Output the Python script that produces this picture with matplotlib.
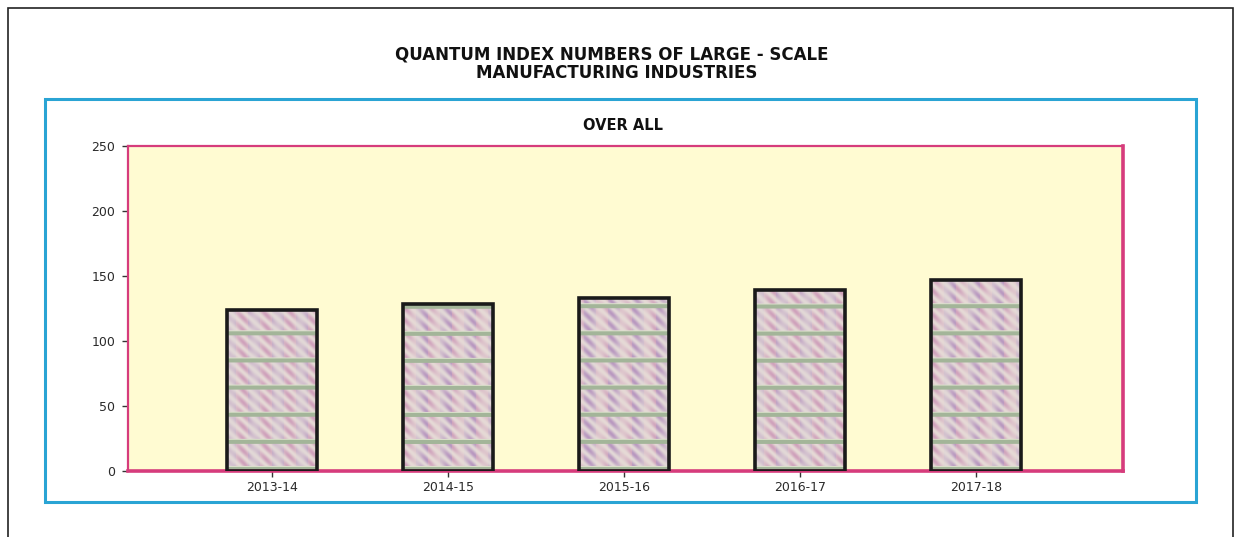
import matplotlib.pyplot as plt
import numpy as np
from matplotlib.patches import Rectangle

years = ['2013-14', '2014-15', '2015-16', '2016-17', '2017-18']
index_values = [124.0, 128.3, 133.2, 139.6, 147.0]
y_ticks = [0, 50, 100, 150, 200, 250]

W_PX, H_PX = 1235, 537
fig = plt.figure(figsize=(W_PX / 100, H_PX / 100), dpi=100)
fig.patch.set_facecolor('white')

# outer black frame (bottom edge falls off the picture)
fig.patches.append(Rectangle((8 / W_PX, -0.05), 1225 / W_PX, (537 - 8) / H_PX + 0.05,
                             transform=fig.transFigure, fill=False,
                             edgecolor='#222222', linewidth=1.2))
# cyan chart frame
fig.patches.append(Rectangle((45 / W_PX, (537 - 502) / H_PX), 1151 / W_PX, 403 / H_PX,
                             transform=fig.transFigure, fill=False,
                             edgecolor='#2aa4d4', linewidth=2.2))

fig.text(612 / W_PX, 1 - 55 / H_PX, 'QUANTUM INDEX NUMBERS OF LARGE - SCALE',
         ha='center', va='center', fontsize=12, fontweight='bold',
         family='DejaVu Sans', color='#111111')
fig.text(617 / W_PX, 1 - 73 / H_PX, 'MANUFACTURING INDUSTRIES',
         ha='center', va='center', fontsize=12, fontweight='bold',
         family='DejaVu Sans', color='#111111')
fig.text(623 / W_PX, 1 - 126 / H_PX, 'OVER ALL',
         ha='center', va='center', fontsize=10.5, fontweight='bold',
         family='DejaVu Sans', color='#111111')

ax_l, ax_t, ax_r, ax_b = 128, 146, 1123, 471
ax = fig.add_axes([ax_l / W_PX, (537 - ax_b) / H_PX,
                   (ax_r - ax_l) / W_PX, (ax_b - ax_t) / H_PX])
ax.set_facecolor('#fffbd2')

x = np.arange(len(years))
xlim = (-0.818, 4.835)
ylim = (0, 250)

# soft textured fill for the bars (lilac strokes on cream, green bands)
h, w = ax_b - ax_t, ax_r - ax_l
yy, xx = np.mgrid[0:h, 0:w]
cream = np.array([0.92, 0.90, 0.86])
lilac = np.array([0.70, 0.56, 0.74])
pink = np.array([0.80, 0.60, 0.72])
green = np.array([0.64, 0.71, 0.60])
s1 = 0.5 + 0.5 * np.sin(2 * np.pi * (xx * 0.9 + yy) / 12)
s2 = 0.5 + 0.5 * np.cos(2 * np.pi * xx / 23)
mix = (0.15 + 0.75 * s1 * (0.35 + 0.65 * s2))[..., None]
tex = cream * (1 - mix) + np.where((xx // 12 % 2 == 0)[..., None], lilac, pink) * mix
phase = yy % 27
tex[phase < 4] = green
tex[phase == 4] = [0.86, 0.88, 0.80]

bars = ax.bar(x, index_values, width=0.51, facecolor='none',
              edgecolor='#1a1a1a', linewidth=2.6, zorder=3)
for b in bars:
    im = ax.imshow(tex, extent=(xlim[0], xlim[1], ylim[0], ylim[1]),
                   origin='lower', aspect='auto', zorder=2, interpolation='bilinear')
    im.set_clip_path(b)

ax.set_xlim(*xlim)
ax.set_ylim(*ylim)
ax.set_xticks(x)
ax.set_xticklabels(years)
ax.set_yticks(y_ticks)

for side in ['left', 'top']:
    ax.spines[side].set_linewidth(1.6)
for side in ['right', 'bottom']:
    ax.spines[side].set_linewidth(2.6)
for s in ax.spines.values():
    s.set_color('#d63c7c')

ax.tick_params(axis='both', direction='out', length=4, width=1, color='#333333',
               labelsize=9, labelcolor='#2a2a2a')
ax.tick_params(axis='y', pad=5)
ax.tick_params(axis='x', pad=3)
for lab in ax.get_xticklabels() + ax.get_yticklabels():
    lab.set_family('DejaVu Sans')

fig.savefig('out.png', dpi=100)
